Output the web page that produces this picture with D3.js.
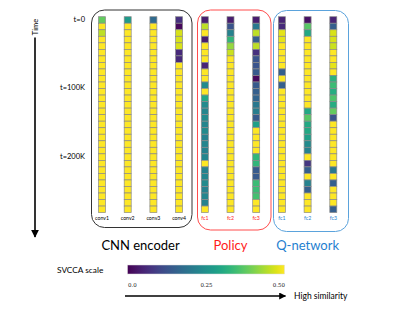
<!DOCTYPE html>
<html><head><meta charset="utf-8">
<script src="https://cdn.jsdelivr.net/npm/d3@7"></script>
<style>body{margin:0;background:#fff}svg{display:block}</style>
</head><body>
<svg id="c" width="415" height="312"></svg>
<script>
// ---- data ----
const layers = ["conv1","conv2","conv3","conv4","fc1","fc2","fc3","fc1 ","fc2 ","fc3 "];
const layerGroup = ["cnn","cnn","cnn","cnn","policy","policy","policy","q","q","q"];
const groupNames = ["CNN encoder","Policy","Q-network"];
const timeLabels = ["t=0","t=100K","t=200K"];
const timeIndex = [0,10.5,21];
const scaleTicks = [0,0.25,0.5];
const scaleTickLabels = ["0.0","0.25","0.50"];

const conv1 = [0.38,0.5,0.45,0.5,0.5,0.5,0.5,0.5,0.5,0.5,0.5,0.5,0.5,0.5,0.5,0.5,0.5,0.5,0.5,0.5,0.5,0.5,0.5,0.5,0.5,0.5,0.5,0.5,0.5,0.5];
const conv2 = [0.27,0.5,0.5,0.5,0.5,0.5,0.5,0.5,0.5,0.5,0.5,0.5,0.5,0.5,0.5,0.5,0.5,0.5,0.5,0.5,0.5,0.5,0.5,0.5,0.5,0.5,0.5,0.5,0.5,0.5];
const conv3 = [0.17,0.5,0.5,0.5,0.5,0.5,0.5,0.5,0.5,0.5,0.5,0.5,0.5,0.5,0.5,0.5,0.5,0.5,0.5,0.5,0.5,0.5,0.5,0.5,0.5,0.5,0.5,0.5,0.5,0.5];
const conv4 = [0.07,0.01,0.47,0.47,0.47,0.06,0.06,0.5,0.5,0.5,0.5,0.5,0.5,0.5,0.5,0.5,0.5,0.5,0.5,0.5,0.5,0.5,0.5,0.5,0.5,0.5,0.5,0.5,0.5,0.5];
const policyFc1 = [0.04,0.45,0.5,0.04,0.5,0.5,0.5,0.05,0.5,0.5,0.24,0.5,0.3,0.24,0.23,0.24,0.23,0.24,0.22,0.23,0.22,0.23,0.5,0.22,0.23,0.24,0.22,0.23,0.22,0.5];
const policyFc2 = [0.04,0.13,0.22,0.33,0.42,0.46,0.5,0.5,0.5,0.5,0.5,0.5,0.5,0.5,0.5,0.5,0.5,0.5,0.5,0.5,0.5,0.5,0.5,0.5,0.5,0.5,0.5,0.5,0.5,0.5];
const policyFc3 = [0.04,0.2,0.45,0.15,0.45,0.07,0.13,0.13,0.14,0.01,0.14,0.15,0.16,0.2,0.21,0.14,0.28,0.5,0.5,0.5,0.5,0.33,0.33,0.14,0.14,0.34,0.34,0.35,0.5,0.5];
const qFc1 = [0.05,0.06,0.48,0.48,0.5,0.5,0.5,0.5,0.15,0.5,0.15,0.5,0.5,0.5,0.5,0.5,0.5,0.5,0.5,0.5,0.5,0.5,0.5,0.5,0.5,0.5,0.5,0.5,0.5,0.5];
const qFc2 = [0.02,0.37,0.3,0.5,0.5,0.5,0.5,0.5,0.5,0.5,0.5,0.5,0.5,0.5,0.3,0.37,0.3,0.3,0.28,0.24,0.22,0.5,0.08,0.15,0.5,0.22,0.15,0.5,0.5,0.5];
const qFc3 = [0.05,0.15,0.47,0.47,0.46,0.5,0.5,0.48,0.5,0.32,0.34,0.31,0.36,0.31,0.38,0.13,0.5,0.5,0.5,0.5,0.5,0.5,0.5,0.2,0.5,0.15,0.5,0.5,0.5,0.15];
const series = [conv1,conv2,conv3,conv4,policyFc1,policyFc2,policyFc3,qFc1,qFc2,qFc3];

// ---- drawing ----
const svg = d3.select("#c");
const font = "Lato, 'Open Sans', sans-serif";
const groupColor = {cnn:"#000000", policy:"#ff1a1a", q:"#1f7fd0"};
const boxColor = {cnn:"#333333", policy:"#ff4d4d", q:"#5ba3dc"};

const nSteps = conv1.length;
const x = d3.scalePoint().domain(layers).range([102, 333.3]);
const y = d3.scaleBand().domain(d3.range(nSteps)).range([16.7, 212.6]).padding(0);
const color = d3.scaleSequential(d3.interpolateViridis).domain([0, 0.5]).clamp(true);
const cellW = 7;

// group boxes
const boxes = [
  {g:"cnn", x0:91.5, x1:192, y0:10, y1:227.5},
  {g:"policy", x0:197.5, x1:271, y0:10, y1:230},
  {g:"q", x0:273.5, x1:348.5, y0:10.5, y1:231.5}
];
svg.selectAll("rect.box").data(boxes).join("rect")
  .attr("class","box")
  .attr("x", d=>d.x0).attr("y", d=>d.y0)
  .attr("width", d=>d.x1-d.x0).attr("height", d=>d.y1-d.y0)
  .attr("rx", 13).attr("ry", 13)
  .attr("fill","none").attr("stroke", d=>boxColor[d.g]).attr("stroke-width",1);

// cells
const cols = svg.selectAll("g.col").data(layers).join("g").attr("class","col");
cols.each(function(l, i){
  const g = d3.select(this);
  g.selectAll("rect").data(series[i]).join("rect")
    .attr("x", x(l) - cellW/2)
    .attr("y", (d,j)=>y(j))
    .attr("width", cellW)
    .attr("height", y.bandwidth())
    .attr("fill", d=>color(d))
    .attr("stroke","#8a8a8a").attr("stroke-width",0.7);
  g.append("text")
    .attr("x", x(l)).attr("y", 220)
    .attr("text-anchor","middle")
    .attr("font-family", font).attr("font-size", 5.2)
    .attr("fill", groupColor[layerGroup[i]])
    .text(l.trim());
});

// group titles
const groupKeys = ["cnn","policy","q"];
groupKeys.forEach((k, gi)=>{
  const ls = layers.filter((l,i)=>layerGroup[i]===k);
  const cx = (x(ls[0]) + x(ls[ls.length-1]))/2;
  svg.append("text")
    .attr("x", cx).attr("y", 250)
    .attr("text-anchor","middle")
    .attr("font-family", font).attr("font-size", 13)
    .attr("fill", groupColor[k])
    .text(groupNames[gi]);
});

// time labels
svg.selectAll("text.tl").data(timeLabels).join("text")
  .attr("class","tl")
  .attr("x", 85)
  .attr("y", (d,i)=>y(0) + timeIndex[i]*y.bandwidth() + 5)
  .attr("text-anchor","end")
  .attr("font-family", font).attr("font-size", 7.5)
  .text(d=>d);

// time arrow
const defs = svg.append("defs");
defs.append("marker").attr("id","ah").attr("viewBox","0 0 10 10")
  .attr("refX",9).attr("refY",5).attr("markerWidth",5).attr("markerHeight",5)
  .attr("orient","auto")
  .append("path").attr("d","M0,0 L10,5 L0,10 z").attr("fill","#000");
svg.append("text")
  .attr("transform","translate(37.5,27) rotate(-90)")
  .attr("text-anchor","middle")
  .attr("font-family", font).attr("font-size", 7.5)
  .text("Time");
svg.append("line").attr("x1",35).attr("x2",35).attr("y1",37.5).attr("y2",237)
  .attr("stroke","#000").attr("stroke-width",1.6).attr("marker-end","url(#ah)");

// colorbar
const cbX = d3.scaleLinear().domain([0,0.5]).range([127.5,284.5]);
const grad = defs.append("linearGradient").attr("id","vir");
d3.range(0,1.0001,0.05).forEach(t=>{
  grad.append("stop").attr("offset", (t*100)+"%").attr("stop-color", d3.interpolateViridis(t));
});
svg.append("rect").attr("x",cbX(0)).attr("y",265).attr("width",cbX(0.5)-cbX(0)).attr("height",9)
  .attr("fill","url(#vir)").attr("stroke","#ddd").attr("stroke-width",0.5);
svg.append("text").attr("x",57).attr("y",273).attr("font-family",font).attr("font-size",8.3).text("SVCCA scale");

const axis = d3.axisBottom(cbX).tickValues(scaleTicks).tickSize(0)
  .tickFormat((d,i)=>scaleTickLabels[i]);
const ag = svg.append("g").attr("transform","translate(0,280)").call(axis);
ag.select(".domain").remove();
ag.selectAll("text").attr("font-family","'DejaVu Serif', serif").attr("font-size",5.5).attr("fill","#222")
  .attr("text-anchor",(d,i)=> i===0 ? "start" : (i===scaleTicks.length-1 ? "end" : "middle"));

svg.append("line").attr("x1",125).attr("x2",285.5).attr("y1",296).attr("y2",296)
  .attr("stroke","#000").attr("stroke-width",1.4).attr("marker-end","url(#ah)");
svg.append("text").attr("x",294).attr("y",299).attr("font-family",font).attr("font-size",8.5).text("High similarity");
</script>
</body></html>
